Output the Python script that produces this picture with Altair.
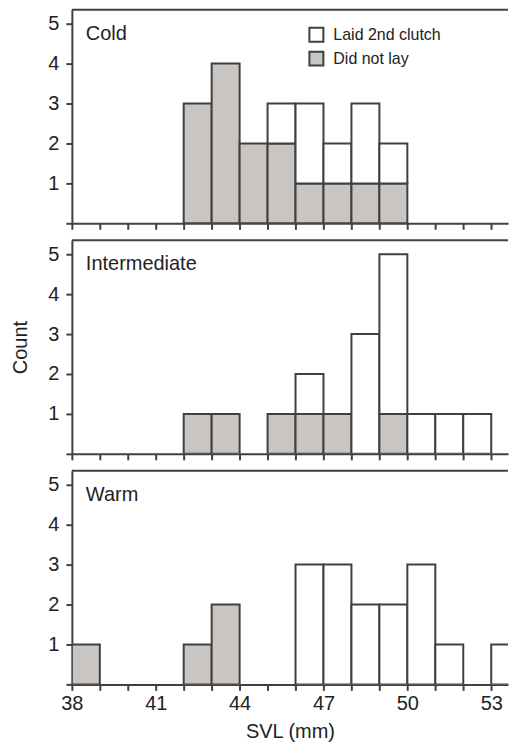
import altair as alt
import pandas as pd

# bin starts (SVL, mm), bins are 1 mm wide
bins = list(range(38, 54))

cold_did_not_lay = [0, 0, 0, 0, 3, 4, 2, 2, 1, 1, 1, 1, 0, 0, 0, 0]
cold_laid_2nd = [0, 0, 0, 0, 0, 0, 0, 1, 2, 1, 2, 1, 0, 0, 0, 0]

inter_did_not_lay = [0, 0, 0, 0, 1, 1, 0, 1, 1, 1, 0, 1, 0, 0, 0, 0]
inter_laid_2nd = [0, 0, 0, 0, 0, 0, 0, 0, 1, 0, 3, 4, 1, 1, 1, 0]

warm_did_not_lay = [1, 0, 0, 0, 1, 2, 0, 0, 0, 0, 0, 0, 0, 0, 0, 0]
warm_laid_2nd = [0, 0, 0, 0, 0, 0, 0, 0, 3, 3, 2, 2, 3, 1, 0, 1]

panels = ["Cold", "Intermediate", "Warm"]
series = {
    "Cold": (cold_did_not_lay, cold_laid_2nd),
    "Intermediate": (inter_did_not_lay, inter_laid_2nd),
    "Warm": (warm_did_not_lay, warm_laid_2nd),
}
status_names = ["Laid 2nd clutch", "Did not lay"]
y_ticks = [0, 1, 2, 3, 4, 5]

rows = []
for p in panels:
    nl, laid = series[p]
    for b, g, w in zip(bins, nl, laid):
        if g > 0:
            rows.append({"panel": p, "bin": b, "bin_end": b + 1, "y0": 0, "y1": g, "status": "Did not lay"})
        if w > 0:
            rows.append({"panel": p, "bin": b, "bin_end": b + 1, "y0": g, "y1": g + w, "status": "Laid 2nd clutch"})
df = pd.DataFrame(rows)

FONT = "Liberation Sans"
INK = "#222222"
LINE = "#404040"
XMAX = 53.6
YMAX = 5.35
W = 437
H = 214


def panel(name, is_bottom, is_top, show_title):
    d = df[df.panel == name]
    xaxis = alt.Axis(
        values=bins,
        labelExpr="(datum.value - 38) % 3 == 0 ? datum.label : ''" if is_bottom else "''",
        labels=is_bottom,
        labelFlush=False,
        labelOverlap=False,
        title="SVL (mm)" if is_bottom else None,
        labelPadding=3,
        titlePadding=8,
    )
    yaxis = alt.Axis(
        values=y_ticks,
        labelExpr="datum.value == 0 ? '' : datum.label",
        title="Count",
        titleOpacity=1 if show_title else 0,
        labelPadding=7,
        titlePadding=17,
    )
    fill_legend = None
    if is_top:
        fill_legend = alt.Legend(
            orient="none",
            legendX=237,
            legendY=17,
            title=None,
            symbolType="square",
            symbolSize=196,
            symbolStrokeColor=LINE,
            symbolStrokeWidth=2,
            symbolOpacity=1,
            labelFontSize=16,
            labelFont=FONT,
            labelColor=INK,
            labelOffset=9,
            rowPadding=2,
        )
    bars = alt.Chart(d).mark_rect(stroke=LINE, strokeWidth=2, clip=True, opacity=1).encode(
        x=alt.X("bin:Q", scale=alt.Scale(domain=[38, XMAX], nice=False, zero=False), axis=xaxis),
        x2="bin_end:Q",
        y=alt.Y("y0:Q", scale=alt.Scale(domain=[0, YMAX], nice=False), axis=yaxis),
        y2="y1:Q",
        fill=alt.Fill(
            "status:N",
            scale=alt.Scale(domain=status_names, range=["#ffffff", "#c8c5c2"]),
            legend=fill_legend,
        ),
    )
    top_rule = alt.Chart(pd.DataFrame({"top": [YMAX]})).mark_rule(color=LINE, strokeWidth=2).encode(
        y=alt.Y("top:Q")
    )
    label = alt.Chart(pd.DataFrame({"t": [name]})).mark_text(
        align="left", baseline="alphabetic", font=FONT, fontSize=20, color=INK
    ).encode(x=alt.value(14), y=alt.value(30), text="t:N")
    return alt.layer(bars, top_rule, label).properties(width=W, height=H)


chart = alt.vconcat(
    panel("Cold", False, True, False),
    panel("Intermediate", False, False, True),
    panel("Warm", True, False, False),
    spacing=9,
).properties(
    padding={"left": 2, "top": 0, "right": 0, "bottom": 0}
).configure(
    font=FONT
).configure_view(
    stroke=None
).configure_axis(
    domainColor=LINE,
    domainWidth=2,
    tickColor=LINE,
    tickWidth=2,
    tickSize=6,
    grid=False,
    labelFont=FONT,
    labelFontSize=20,
    labelColor=INK,
    titleFont=FONT,
    titleFontSize=20,
    titleColor=INK,
    titleFontWeight="normal",
)

chart.save("out.html", embed_options={"renderer": "svg", "actions": False})
